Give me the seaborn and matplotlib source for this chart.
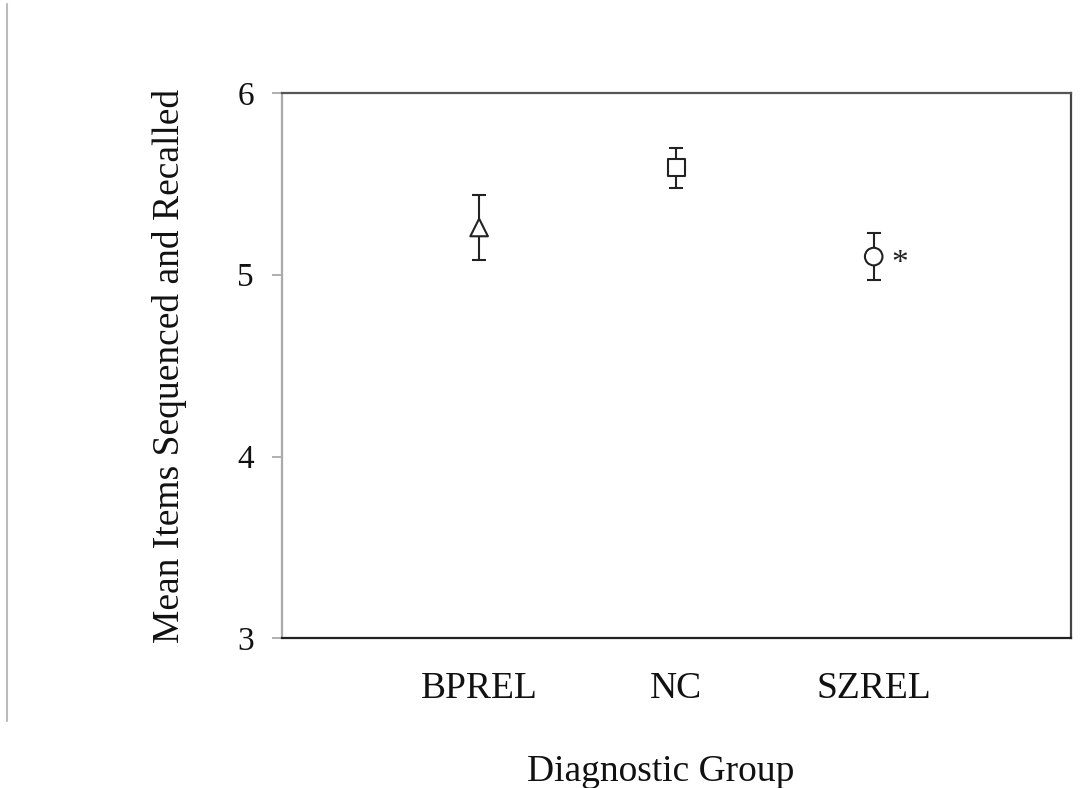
import matplotlib
matplotlib.use("Agg")
import matplotlib.pyplot as plt
import seaborn as sns
import pandas as pd
from matplotlib.lines import Line2D

# Group means and error-bar half widths
groups = ["BPREL", "NC", "SZREL"]
means = [5.26, 5.59, 5.10]
errors = [0.18, 0.11, 0.13]
markers = ["^", "s", "o"]

df = pd.DataFrame({"group": groups, "mean": means, "err": errors})

sns.set_theme(style="white")
plt.rcParams["font.family"] = ["Liberation Serif", "DejaVu Serif"]

fig = plt.figure(figsize=(10.84, 7.88), dpi=100)
ax = fig.add_axes([0.260, 0.190, 0.728, 0.692])

pos = list(range(len(groups)))
ax.errorbar(pos, df["mean"], yerr=df["err"], fmt="none", ecolor="#222222",
            elinewidth=1.5, capsize=5, capthick=1.5, zorder=2)
sns.scatterplot(data=df, x=pos, y="mean", style="group",
                markers=dict(zip(groups, markers)), s=160,
                facecolor="white", edgecolor="#222222", linewidth=1.5,
                legend=False, ax=ax, zorder=3)

# significance marker next to SZREL
ax.text(2 + 0.13, df["mean"][2] - 0.04, "*", fontsize=24, ha="center",
        va="center", color="#222222")

ax.set_xlim(-1, 3)
ax.set_ylim(3, 6)
ax.set_xticks(pos)
ax.set_xticklabels(groups)
ax.set_yticks([3, 4, 5, 6])
ax.tick_params(axis="x", length=0, pad=24, labelsize=27, colors="#111111")
ax.tick_params(axis="y", length=7, width=1.3, color="#aaaaaa", pad=13,
               labelsize=24, labelcolor="#111111", left=True)

ax.set_xlabel("Diagnostic Group", fontsize=27, labelpad=35, color="#111111",
              x=0.48)
ax.set_ylabel("Mean Items Sequenced and Recalled", fontsize=27, labelpad=36,
              color="#111111")

for side, col in [("left", "#aaaaaa"), ("top", "#555555"),
                  ("right", "#444444"), ("bottom", "#222222")]:
    ax.spines[side].set_visible(True)
    ax.spines[side].set_color(col)
    ax.spines[side].set_linewidth(1.6)

# thin grey rule along the left edge of the figure
fig.add_artist(Line2D([0.0069, 0.0069], [0.085, 0.995], transform=fig.transFigure,
                      color="#bbbbbb", linewidth=1.5))

fig.savefig("out.png", dpi=100, facecolor="white")
